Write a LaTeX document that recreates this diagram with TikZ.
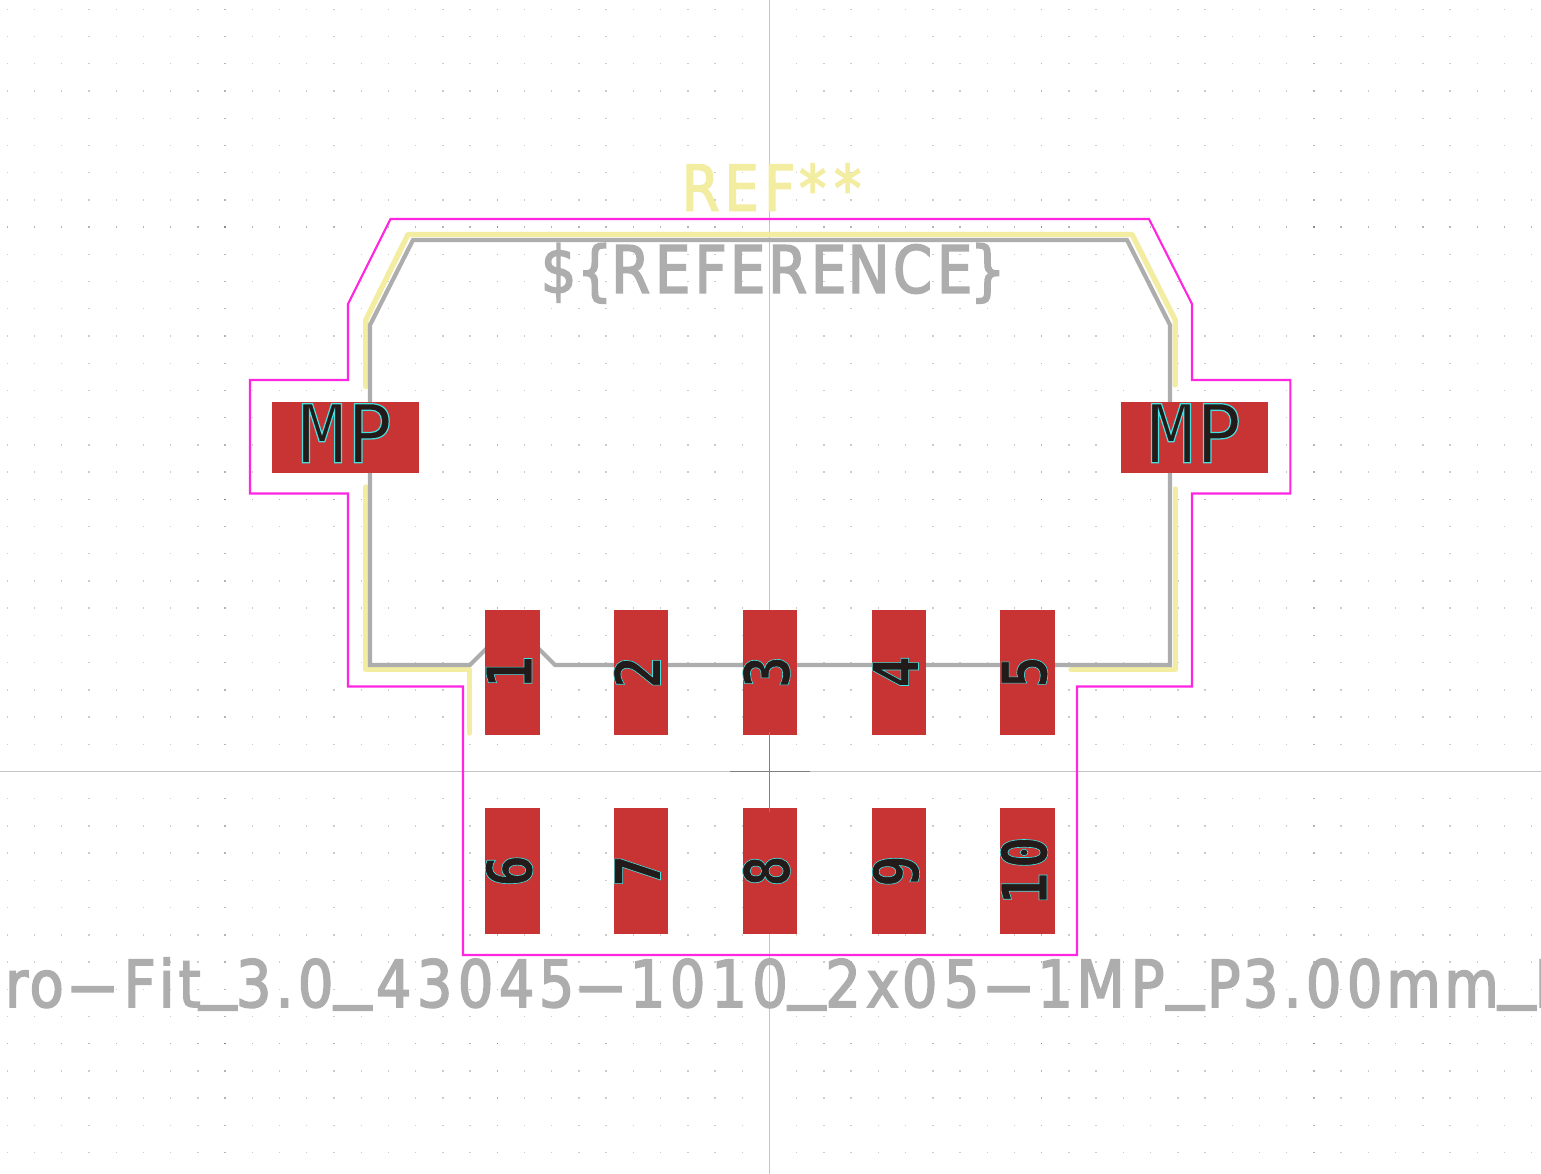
\documentclass[tikz,border=0pt]{standalone}
\usepackage{graphicx}
\usepackage{fontspec}
\newfontfamily\strokefont[FakeStretch=0.86,FakeBold=2.5]{DejaVu Sans}
\newfontfamily\digitfont[FakeStretch=0.85,FakeBold=1.0,BoldFont={DejaVu Sans Mono Bold}]{DejaVu Sans Mono Bold}
\newfontfamily\mpfont[FakeStretch=0.93,FakeBold=1.5]{DejaVu Sans Mono}
\definecolor{padred}{HTML}{C83434}
\definecolor{fabgray}{HTML}{ADADAD}
\definecolor{silk}{HTML}{F2EDA1}
\definecolor{court}{HTML}{FF26E2}
\definecolor{ink}{HTML}{231A1A}
\definecolor{hair}{HTML}{C4C4C4}
\definecolor{hairdark}{HTML}{808080}
\definecolor{dotminor}{HTML}{CCCCCC}
\definecolor{dotmid}{HTML}{B4B4B4}
\definecolor{dotmajor}{HTML}{8A8A8A}
\tikzset{
  padbox/.style={fill=padred,draw=none,inner sep=0pt,outer sep=0pt,rectangle},
  fabline/.style={draw=fabgray,line width=4.2pt,line join=miter},
  silkline/.style={draw=silk,line width=5.4pt,line cap=round,line join=round},
  courtline/.style={draw=court,line width=2.1pt,line join=miter},
  padnum/.style={text=ink,anchor=base,inner sep=0pt,rotate=90,font=\digitfont\fontsize{63}{63}\selectfont},
  mplabel/.style={text=ink,anchor=base,inner sep=0pt,font=\mpfont\fontsize{81}{81}\selectfont},
  strokegray/.style={text=fabgray,anchor=base west,inner sep=0pt,font=\strokefont\fontsize{65}{65}\selectfont},
  strokesilk/.style={text=silk,anchor=base west,inner sep=0pt,font=\strokefont\fontsize{63}{63}\selectfont},
}
\newcommand{\outl}[1]{\special{pdf:code 0.27 0.88 0.88 RG}#1}
\newcommand{\gc}[2]{\makebox[0pt][l]{\hspace*{#1pt}\makebox[0pt][c]{#2}}}
\newcommand{\hy}{\scalebox{2.6}[1]{-}}
\newcommand{\us}{\raisebox{12pt}{\scalebox{1.31}[1]{\_}}}
\begin{document}
\begin{tikzpicture}[x=1pt,y=-1pt]
\useasboundingbox (0,0) rectangle (1541,1174);
\fill[white] (0,0) rectangle (1541,1174);
% grid
\foreach \i in {-28,...,28}{
  \foreach \j in {-28,...,14}{
    \pgfmathtruncatemacro{\ma}{mod(abs(\i),10)==0 ? 1 : 0}
    \pgfmathtruncatemacro{\mb}{mod(abs(\j),10)==0 ? 1 : 0}
    \pgfmathtruncatemacro{\mm}{\ma+\mb}
    \ifcase\mm\relax \def\dc{dotminor}\or \def\dc{dotmid}\else \def\dc{dotmajor}\fi
    \fill[\dc] ({769.5+27.22*\i-0.7},{771.5+27.22*\j-0.7}) rectangle ++(1.4,1.4);
  }
}
% hairlines
\coordinate (cc) at (769.5,771.5);
\draw[hair,line width=1pt] (769.5,0) -- (769.5,1174);
\draw[hair,line width=1pt] (0,771.5) -- (1541,771.5);
% silk
\draw[silkline] (365.8,386.5) -- (365.8,320) -- (408,234.5) -- (1132,234.5) -- (1175.2,320) -- (1175.2,385);
\draw[silkline] (365.8,487) -- (365.8,669.4) -- (469.3,669.4) -- (469.3,733);
\draw[silkline] (1175.2,489) -- (1175.2,669.4) -- (1071,669.4);
% fab
\draw[fabline] (370,325) -- (413,240) -- (1127,240) -- (1170,325) -- (1170,665) -- (555,665) -- (512.5,622.5) -- (470,665) -- (370,665) -- cycle;
% courtyard
\draw[courtline] (390.5,219) -- (1149,219) -- (1192,304) -- (1192,380) -- (1290.3,380) -- (1290.3,493.5) -- (1192,493.5) -- (1192,686.5) -- (1077,686.5) -- (1077,955) -- (463,955) -- (463,686.5) -- (348,686.5) -- (348,493.5) -- (250,493.5) -- (250,380) -- (348,380) -- (348,304) -- cycle;
% pads
\node[padbox,minimum width=147pt,minimum height=71pt] (mpl) at (345.5,437.5) {};
\node[padbox,minimum width=147pt,minimum height=71pt] (mpr) at (1194.5,437.5) {};
\foreach \n/\cx/\w in {1/512.5/55,2/641/54,3/770/54,4/899/54,5/1027.5/55}{
  \node[padbox,minimum width=\w pt,minimum height=125pt] (p\n) at (\cx,672.5) {};
}
\foreach \n/\cx/\w in {6/512.5/55,7/641/54,8/770/54,9/899/54,10/1027.5/55}{
  \node[padbox,minimum width=\w pt,minimum height=126pt] (p\n) at (\cx,871) {};
}
% centre cross
\draw[hairdark,line width=1.2pt] (769.5,732) -- (769.5,812);
\draw[hairdark,line width=1.2pt] (730,771.5) -- (810,771.5);
% pad labels
\foreach \n/\cx in {1/512.5,2/641,3/770,4/899,5/1027.5}{
  \node[padnum] (t\n) at (\cx+19.5,672) {\outl{\n}};
}
\foreach \n/\cx in {6/512.5,7/641,8/770,9/899}{
  \node[padnum] (t\n) at (\cx+19.5,871) {\outl{\n}};
}
\node[padnum] (t10) at (1047,870.5) {\outl{1\hspace{4pt}0}};
\node[mplabel] (tmpl) at (346,462.7) {\outl{M\hspace{2.5pt}P}};
\node[mplabel] (tmpr) at (1195,462.7) {\outl{M\hspace{2.5pt}P}};
% texts
\node[strokesilk] (ref) at (0,210.5) {\gc{700}{R}\gc{741}{E}\gc{779}{F}\gc{812}{*}\gc{847}{*}};
\node[strokegray] (val) at (0,292.7) {\gc{558}{\$}\gc{594}{\{}\gc{630}{R}\gc{672}{E}\gc{710}{F}\gc{747}{E}\gc{787}{R}\gc{828}{E}\gc{868}{N}\gc{912}{C}\gc{954}{E}\gc{987}{\}}};
\node[strokegray] (fp) at (0,1007) {\gc{16}{r}\gc{46}{o}\gc{92}{\hy}\gc{139}{F}\gc{166}{i}\gc{189}{t}\gc{217}{\us}\gc{253}{3}\gc{284}{.}\gc{315}{0}\gc{352}{\us}\gc{393}{4}\gc{434}{3}\gc{475}{0}\gc{516}{4}\gc{556}{5}\gc{600}{\hy}\gc{647}{1}\gc{687}{0}\gc{728.5}{1}\gc{769.5}{0}\gc{806}{\us}\gc{842.5}{2}\gc{882}{x}\gc{919}{0}\gc{961}{5}\gc{1008}{\hy}\gc{1054.5}{1}\gc{1100}{M}\gc{1147}{P}\gc{1184.5}{\us}\gc{1223}{P}\gc{1260}{3}\gc{1292}{.}\gc{1323}{0}\gc{1364}{0}\gc{1413}{m}\gc{1471}{m}\gc{1516}{\us}\gc{1555}{H}};
\end{tikzpicture}
\end{document}
